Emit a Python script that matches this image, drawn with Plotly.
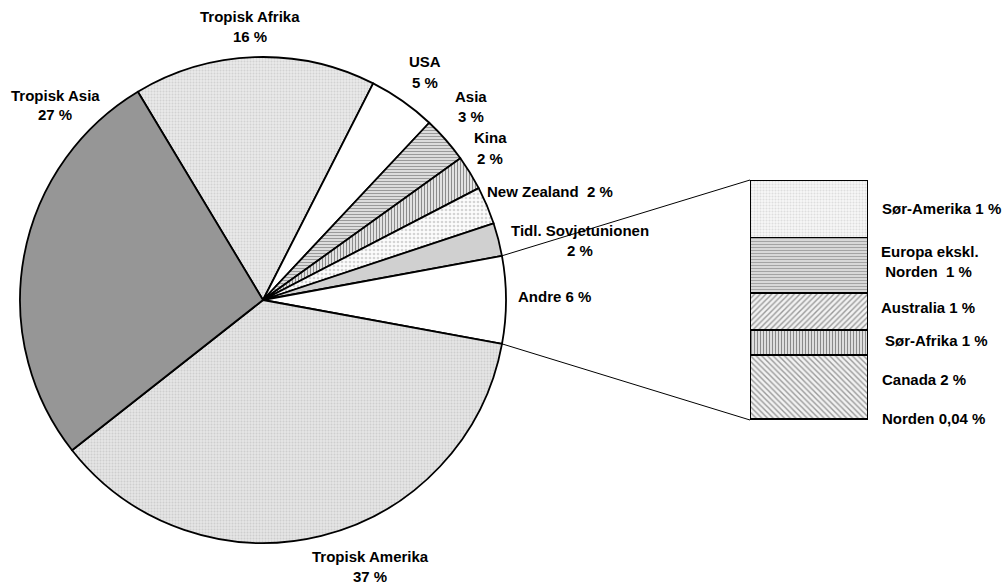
import math
import plotly.graph_objects as go

W, H = 1002, 584

# ---- data ----
pie_labels = ["Tropisk Afrika", "USA", "Asia", "Kina", "New Zealand",
              "Tidl. Sovjetunionen", "Andre", "Tropisk Amerika", "Tropisk Asia"]
pie_values = [16.1, 4.5, 3.1, 2.3, 2.5, 2.2, 5.8, 36.5, 27.0]
pie_pct_text = ["16 %", "5 %", "3 %", "2 %", "2 %", "2 %", "6 %", "37 %", "27 %"]

bar_labels = ["Norden", "Canada", "Sør-Afrika", "Australia", "Europa ekskl. Norden", "Sør-Amerika"]
bar_values = [0.04, 1.52, 0.60, 0.89, 1.33, 1.38]
bar_pct_text = ["0,04 %", "2 %", "1 %", "1 %", "1 %", "1 %"]

# ---- styles ----
pie_shapes = [".", "", "-", "|", ".", "", "", ".", ""]
pie_bg = ["#eaeaea", "#ffffff", "#dcdcdc", "#e2e2e2", "#fcfcfc", "#d0d0d0", "#ffffff", "#e6e6e6", "#969696"]
pie_fg = ["#d2d2d2", "#ffffff", "#9a9a9a", "#8c8c8c", "#d4d4d4", "#d0d0d0", "#ffffff", "#cecece", "#969696"]
pie_size = [3, 3, 3, 3, 4, 3, 3, 3, 3]

bar_shapes = ["", "\\", "|", "/", "-", "."]
bar_bg = ["#8a8a8a", "#f2f2f2", "#dedede", "#f2f2f2", "#d8d8d8", "#f7f7f7"]
bar_fg = ["#8a8a8a", "#9a9a9a", "#8a8a8a", "#9a9a9a", "#a4a4a4", "#dedede"]
bar_size = [3, 4, 3, 4, 3, 3]

# ---- geometry ----
cx, cy, R = 263, 300, 243
rotation = -31
bar_x0, bar_x1, bar_y0, bar_y1 = 750, 868, 180, 420


def px(x):
    return x / W


def py(y):
    return 1 - y / H


fig = go.Figure()
fig.add_trace(go.Pie(
    labels=pie_labels, values=pie_values, sort=False, direction="clockwise",
    rotation=rotation, textinfo="none", hoverinfo="skip", showlegend=False,
    domain=dict(x=[px(cx - R), px(cx + R)], y=[py(cy + R), py(cy - R)]),
    marker=dict(
        colors=pie_bg,
        line=dict(color="black", width=1.8),
        pattern=dict(shape=pie_shapes, fgcolor=pie_fg, bgcolor=pie_bg,
                     size=pie_size, solidity=0.35, fillmode="replace"),
    ),
))

for i, (lab, val) in enumerate(zip(bar_labels, bar_values)):
    fig.add_trace(go.Bar(
        x=[0], y=[val], name=lab, width=1, showlegend=False, hoverinfo="skip",
        marker=dict(
            color=bar_bg[i],
            line=dict(color="black", width=1.5),
            pattern=dict(shape=bar_shapes[i], fgcolor=bar_fg[i], bgcolor=bar_bg[i],
                         size=bar_size[i], solidity=0.35, fillmode="replace"),
        ),
    ))

total_bar = sum(bar_values)
fig.update_layout(
    width=W, height=H, margin=dict(l=0, r=0, t=0, b=0),
    paper_bgcolor="white", plot_bgcolor="rgba(0,0,0,0)",
    barmode="stack", bargap=0,
    xaxis=dict(domain=[px(bar_x0), px(bar_x1)], range=[-0.5, 0.5], visible=False, fixedrange=True),
    yaxis=dict(domain=[py(bar_y1), py(bar_y0)], range=[0, total_bar], visible=False, fixedrange=True),
)

# connector lines from the "Andre" slice edges to the bar corners
total = sum(pie_values)
idx = pie_labels.index("Andre")
a_start = rotation + sum(pie_values[:idx]) / total * 360
a_end = a_start + pie_values[idx] / total * 360
for ang, by in [(a_start, bar_y0), (a_end, bar_y1)]:
    r = math.radians(ang)
    x0 = cx + R * math.sin(r)
    y0 = cy - R * math.cos(r)
    fig.add_shape(type="line", xref="paper", yref="paper",
                  x0=px(x0), y0=py(y0), x1=px(bar_x0), y1=py(by),
                  line=dict(color="black", width=1))

FONT = dict(family="Liberation Sans, Arial, sans-serif", size=15, color="black")


def label(lines, x, y, anchor="center", dy=20):
    for k, t in enumerate(lines):
        fig.add_annotation(text="<b>" + t + "</b>", x=px(x), y=py(y + k * dy),
                           xref="paper", yref="paper", xanchor=anchor, yanchor="middle",
                           showarrow=False, font=FONT)


pl = dict(zip(pie_labels, pie_pct_text))
label(["Tropisk Afrika", pl["Tropisk Afrika"]], 250, 17)
label(["USA", pl["USA"]], 425, 62)
label(["Asia", pl["Asia"]], 471, 97)
label(["Kina", pl["Kina"]], 490, 138)
label(["New Zealand  " + pl["New Zealand"]], 485, 191, anchor="left")
label(["Tidl. Sovjetunionen", pl["Tidl. Sovjetunionen"]], 580, 230)
label(["Andre " + pl["Andre"]], 516, 296, anchor="left")
label(["Tropisk Amerika", pl["Tropisk Amerika"]], 370, 556)
label(["Tropisk Asia", pl["Tropisk Asia"]], 55, 95)

bl = dict(zip(bar_labels, bar_pct_text))
label(["Sør-Amerika " + bl["Sør-Amerika"]], 880, 208, anchor="left")
label(["Europa ekskl.", " Norden  " + bl["Europa ekskl. Norden"]], 879, 252, anchor="left", dy=19)
label(["Australia " + bl["Australia"]], 879, 307, anchor="left")
label(["Sør-Afrika " + bl["Sør-Afrika"]], 883, 341, anchor="left")
label(["Canada " + bl["Canada"]], 880, 379, anchor="left")
label(["Norden " + bl["Norden"]], 880, 418, anchor="left")

fig.write_html(
    "out.html",
    config={"displayModeBar": False, "staticPlot": True},
    post_script="document.body.style.margin='0';document.body.style.overflow='hidden';",
)
